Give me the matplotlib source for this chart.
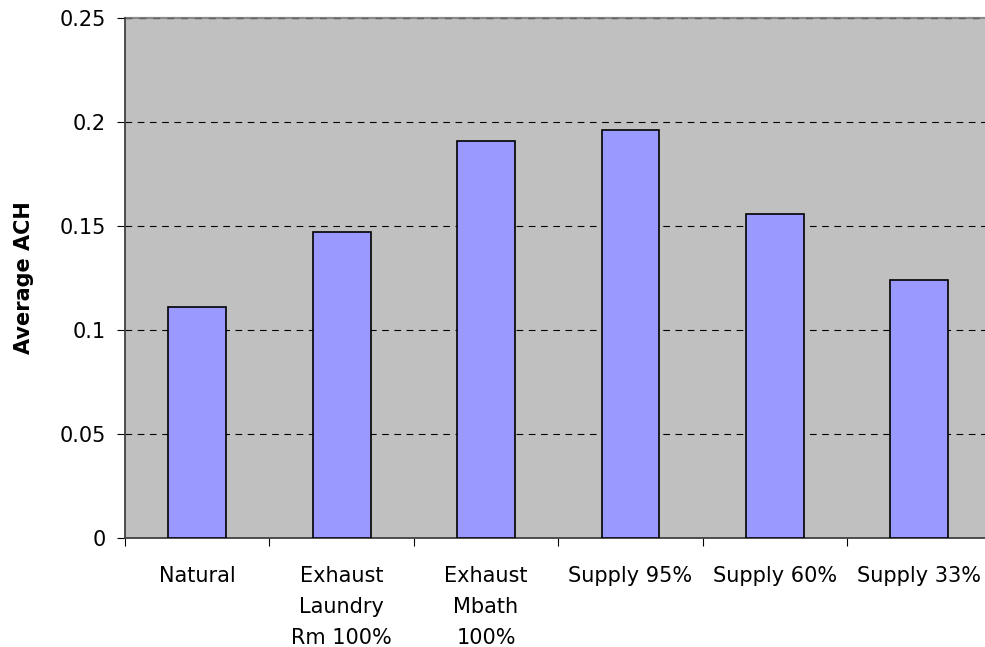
import numpy as np
import matplotlib
matplotlib.use('Agg')
import matplotlib.pyplot as plt

plt.rcParams['font.family'] = ['DejaVu Sans']

categories = ["Natural", "Exhaust\nLaundry\nRm 100%", "Exhaust\nMbath\n100%",
              "Supply 95%", "Supply 60%", "Supply 33%"]
ach = [0.111, 0.147, 0.191, 0.196, 0.156, 0.124]
yticks = [0, 0.05, 0.1, 0.15, 0.2, 0.25]
ytick_labels = ["0", "0.05", "0.1", "0.15", "0.2", "0.25"]

fig = plt.figure(figsize=(9.85, 6.47), dpi=100)
ax = fig.add_axes([125 / 985, 109 / 647, 866.5 / 985, 520 / 647])
ax.set_facecolor('#C0C0C0')

x = np.arange(len(categories))
ax.bar(x, ach, width=0.4, color='#9999FF', edgecolor='black', linewidth=1.2, zorder=3)

ax.set_xlim(-0.5, len(categories) - 0.5)
ax.set_ylim(0, 0.25)
ax.set_yticks(yticks)
ax.set_yticklabels(ytick_labels, fontsize=15)
for y in yticks[1:-1]:
    ax.axhline(y, color='black', linestyle=(0, (6, 5)), linewidth=0.8, zorder=1)
# top border of the plot area
ax.axhline(0.25, color='#8a8a8a', linewidth=1.6, zorder=1, clip_on=False)
ax.axhline(0.25, color='#606060', linestyle=(0, (5, 5)), linewidth=1.0, zorder=2, clip_on=False)

# ticks between categories, labels at centres
ax.set_xticks(np.arange(len(categories) + 1) - 0.5)
ax.set_xticklabels([])
ax.set_xticks(x, minor=True)
ax.set_xticklabels(categories, minor=True, fontsize=15, linespacing=1.68, va='top')
ax.tick_params(axis='x', which='major', direction='out', length=6, color='black')
ax.tick_params(axis='x', which='minor', length=0, pad=20)
ax.tick_params(axis='y', direction='out', length=6, pad=8)

for side in ['top', 'right']:
    ax.spines[side].set_visible(False)
ax.spines['left'].set_color('#404040')
ax.spines['bottom'].set_color('#404040')
ax.spines['left'].set_linewidth(1.3)
ax.spines['bottom'].set_linewidth(1.3)

ax.set_ylabel("Average ACH", fontsize=15, fontweight='bold', labelpad=18)

fig.savefig("out.png", dpi=100)
